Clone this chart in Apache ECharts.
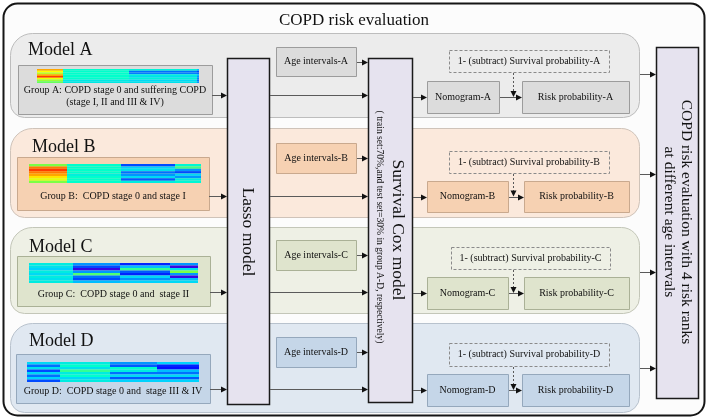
<!DOCTYPE html>
<html><head><meta charset="utf-8">
<script src="https://cdn.jsdelivr.net/npm/echarts@6/dist/echarts.min.js"></script>
<style>html,body{margin:0;padding:0;background:#fff}#c{width:708px;height:419px}</style>
</head><body><div id="c"></div>
<script>
// ---------------- text content ----------------
const TITLE = 'COPD risk evaluation';
const MODELS = ['Model A', 'Model B', 'Model C', 'Model D'];
const GROUPS = [
  'Group A: COPD stage 0 and suffering COPD\n(stage I, II and III & IV)',
  'Group B:  COPD stage 0 and stage I',
  'Group C:  COPD stage 0 and  stage II',
  'Group D:  COPD stage 0 and  stage III & IV'
];
const AGE_LABELS = ['Age intervals-A', 'Age intervals-B', 'Age intervals-C', 'Age intervals-D'];
const SURV_LABELS = ['1- (subtract) Survival probability-A', '1- (subtract) Survival probability-B',
  '1- (subtract) Survival probability-C', '1- (subtract) Survival probability-D'];
const NOMO_LABELS = ['Nomogram-A', 'Nomogram-B', 'Nomogram-C', 'Nomogram-D'];
const RISK_LABELS = ['Risk probability-A', 'Risk probability-B', 'Risk probability-C', 'Risk probability-D'];
const LASSO_LABEL = 'Lasso model';
const COX_LABEL = 'Survival Cox model';
const COX_NOTE = '( train set:70%,and test set=30% in group A-D, respectively)';
const OUTPUT_LABEL = 'COPD risk evaluation with 4 risk ranks\nat different age intervals';

// ---------------- heatmap thumbnails (segments x rows, values 0..1) ----------------
const HEATMAP_A = [
  [0.85, 0.75, 0.68, 0.85, 0.97, 0.74, 0.65, 0.60],
  [0.50, 0.50, 0.50, 0.50, 0.50, 0.50, 0.44, 0.44],
  [0.47, 0.25, 0.27, 0.45, 0.42, 0.47, 0.40, 0.42],
  [0.35, 0.20, 0.25, 0.35, 0.30, 0.28, 0.25, 0.30]
];
const HEATMAP_B = [
  [0.62, 0.90, 0.97, 0.90, 0.85, 0.78, 0.72, 0.62],
  [0.50, 0.50, 0.50, 0.50, 0.46, 0.50, 0.50, 0.50],
  [0.20, 0.38, 0.42, 0.25, 0.30, 0.40, 0.22, 0.45],
  [0.48, 0.56, 0.30, 0.20, 0.40, 0.30, 0.45, 0.48]
];
const HEATMAP_C = [
  [0.45, 0.42, 0.38, 0.45, 0.40, 0.45, 0.42, 0.45],
  [0.30, 0.20, 0.05, 0.30, 0.58, 0.25, 0.20, 0.35],
  [0.15, 0.35, 0.55, 0.22, 0.15, 0.40, 0.30, 0.38],
  [0.30, 0.05, 0.42, 0.62, 0.30, 0.05, 0.35, 0.40]
];
const HEATMAP_D = [
  [0.40, 0.25, 0.42, 0.20, 0.40, 0.25, 0.38, 0.20],
  [0.45, 0.50, 0.42, 0.55, 0.45, 0.50, 0.40, 0.45],
  [0.30, 0.22, 0.50, 0.45, 0.25, 0.40, 0.22, 0.38],
  [0.38, 0.15, 0.12, 0.35, 0.25, 0.40, 0.22, 0.38]
];
const HEATMAPS = [HEATMAP_A, HEATMAP_B, HEATMAP_C, HEATMAP_D];

// ---------------- layout & style (pixels) ----------------
const SERIF = "'Liberation Serif','Times New Roman',serif";
const ROWS = [
  {panel:[10,33,629,84], label:[28,50], group:[18,65,194,49], hm:[69,14], edges:[37,63,129,197,199], gty:96, linkY:95,
   age:[276,47,80,29], dash:[449,50,160,22], nomo:[427,81,72,32], risk:[522,81,107,32], outY:74},
  {panel:[10,128,629,89], label:[32,147], group:[17,157,192,53], hm:[164,19], edges:[29,67,121,175,201], gty:196, linkY:196,
   age:[276,143,80,30], dash:[449,151,160,22], nomo:[427,181,81,31], risk:[524,181,105,31], outY:174},
  {panel:[10,227,629,86], label:[29,247], group:[17,256,193,50], hm:[263,20], edges:[29,73,120,170,198], gty:294, linkY:292,
   age:[276,240,80,30], dash:[451,247,159,22], nomo:[427,277,81,32], risk:[524,277,105,32], outY:272},
  {panel:[10,323,629,89], label:[29,341], group:[16,354,194,49], hm:[362,20], edges:[27,60,110,157,199], gty:391, linkY:389,
   age:[276,337,80,30], dash:[449,343,160,23], nomo:[427,374,81,32], risk:[522,374,107,32], outY:368}
];
const THEMES = [
  {panel:'#ececec', pstroke:'#bdbdbd', box:'#dcdcdc', bstroke:'#9c9c9c'},
  {panel:'#fbe9dc', pstroke:'#cfc3b9', box:'#f6d1b2', bstroke:'#c9a98e'},
  {panel:'#eef0e5', pstroke:'#c3c6b8', box:'#dfe4cd', bstroke:'#aab196'},
  {panel:'#e0e8f1', pstroke:'#b8c2cd', box:'#c5d6e8', bstroke:'#95a8bc'}
];
const LASSO_BOX = [227,58,42,346], COX_BOX = [368,58,44,344], OUT_BOX = [656,47,42,351];
const BIG_FILL = '#e6e3ef';
const LINE = '#5a5a5a', HEAD = '#111';
const DASH_X = 513;

// ---------------- graphic helpers ----------------
const G = [];
function rect(b, fill, stroke, lw, r, dash) {
  G.push({type:'rect', shape:{x:b[0]+0.5, y:b[1]+0.5, width:b[2], height:b[3], r:r||0},
    style:{fill:fill, stroke:stroke, lineWidth:lw||1, lineDash:dash||null}});
}
function text(str, x, y, size, opts) {
  opts = opts || {};
  G.push({type:'text', x:x, y:y, rotation:opts.rot||0,
    style:{text:str, fontSize:size, fontFamily:SERIF, fill:opts.color||'#111',
      align:opts.align||'center', verticalAlign:'middle', lineHeight:opts.lh||Math.round(size*1.15)}});
}
function hArrow(x1, x2, y) {
  y = Math.round(y) + 0.5;
  G.push({type:'polyline', shape:{points:[[x1,y],[x2-4,y]]}, style:{stroke:LINE, lineWidth:1, fill:null}});
  G.push({type:'polygon', shape:{points:[[x2,y],[x2-6,y-3],[x2-6,y+3]]}, style:{fill:HEAD}});
}
function vDashArrow(x, y1, y2) {
  x = Math.round(x) + 0.5;
  G.push({type:'polyline', shape:{points:[[x,y1],[x,y2-4]]}, style:{stroke:LINE, lineWidth:1, lineDash:[2,2], fill:null}});
  G.push({type:'polygon', shape:{points:[[x,y2],[x-3,y2-6],[x+3,y2-6]]}, style:{fill:HEAD}});
}

// outer frame + title
rect([3,3,701,412], '#fcfcfc', '#151515', 2, 14);
text(TITLE, 354, 21, 17);

ROWS.forEach(function (L, i) {
  const T = THEMES[i];
  rect(L.panel, T.panel, T.pstroke, 1, [22, 18, 16, 14]);
  text(MODELS[i], L.label[0], L.label[1], 18, {align:'left'});
  rect(L.group, T.box, T.bstroke, 1);
  text(GROUPS[i], L.group[0] + L.group[2] / 2, L.gty, 10, {lh:12});
  rect(L.age, T.box, T.bstroke, 1);
  text(AGE_LABELS[i], L.age[0] + L.age[2] / 2, L.age[1] + L.age[3] / 2, 10);
  rect(L.dash, 'rgba(0,0,0,0)', '#8a8a8a', 1, 0, [3, 2]);
  text(SURV_LABELS[i], L.dash[0] + L.dash[2] / 2, L.dash[1] + L.dash[3] / 2, 10);
  rect(L.nomo, T.box, T.bstroke, 1);
  text(NOMO_LABELS[i], L.nomo[0] + L.nomo[2] / 2, L.nomo[1] + L.nomo[3] / 2, 10);
  rect(L.risk, T.box, T.bstroke, 1);
  text(RISK_LABELS[i], L.risk[0] + L.risk[2] / 2, L.risk[1] + L.risk[3] / 2, 10);
});

// big vertical boxes
rect(LASSO_BOX, BIG_FILL, '#1a1a1a', 1.5);
rect(COX_BOX, BIG_FILL, '#1a1a1a', 1.5);
rect(OUT_BOX, BIG_FILL, '#1a1a1a', 1.5);
const ROT = -Math.PI / 2;
text(LASSO_LABEL, LASSO_BOX[0] + 21, 232, 17.5, {rot:ROT});
text(COX_LABEL, COX_BOX[0] + 30, 230, 17.5, {rot:ROT});
text(COX_NOTE, COX_BOX[0] + 12, 227, 9.6, {rot:ROT});
text(OUTPUT_LABEL, OUT_BOX[0] + 22, 222, 15.5, {rot:ROT, lh:17});

// connectors
ROWS.forEach(function (L) {
  const g = L.group;
  hArrow(g[0] + g[2], LASSO_BOX[0], L.linkY);
  hArrow(LASSO_BOX[0] + LASSO_BOX[2] + 1, COX_BOX[0], L.linkY);
  const ay = L.age[1] + L.age[3] / 2;
  hArrow(L.age[0] + L.age[2] + 1, COX_BOX[0], ay);
  const ny = L.nomo[1] + L.nomo[3] / 2;
  hArrow(COX_BOX[0] + COX_BOX[2] + 1, L.nomo[0], ny);
  hArrow(L.nomo[0] + L.nomo[2] + 1, L.risk[0], ny);
  vDashArrow(DASH_X, L.dash[1] + L.dash[3] + 1, ny);
  hArrow(L.panel[0] + L.panel[2] + 1, OUT_BOX[0], L.outY);
});

// heatmap cell data built from the value arrays
const cellData = [];
HEATMAPS.forEach(function (hm, h) {
  hm.forEach(function (seg, s) {
    seg.forEach(function (v, r) { cellData.push([h, s, r, v]); });
  });
});

const chart = echarts.init(document.getElementById('c'), null, {renderer:'canvas'});
chart.setOption({
  animation:false,
  backgroundColor:'#ffffff',
  grid:{left:0, top:0, width:708, height:419, show:false},
  xAxis:{type:'value', min:0, max:708, show:false},
  yAxis:{type:'value', min:0, max:419, inverse:true, show:false},
  visualMap:{type:'continuous', show:false, min:0, max:1, dimension:3, seriesIndex:0,
    inRange:{color:['#5a00d0','#0010ff','#0070ff','#00d0ff','#00ffcc','#80ff40','#ffff00','#ff9000','#ff2000']}},
  graphic:{elements:G},
  series:[{
    type:'custom', z:10, silent:true,
    data:cellData,
    encode:{x:0, y:2},
    renderItem:function (params, api) {
      const h = api.value(0), s = api.value(1), r = api.value(2);
      const L = ROWS[h];
      const n = HEATMAPS[h][s].length;
      const y0 = L.hm[0] + r * L.hm[1] / n, y1 = L.hm[0] + (r + 1) * L.hm[1] / n;
      const p0 = api.coord([L.edges[s], y0]);
      const p1 = api.coord([L.edges[s + 1], y1]);
      return {type:'rect', shape:{x:p0[0], y:p0[1], width:p1[0] - p0[0], height:p1[1] - p0[1]},
        style:{fill:api.visual('color')}};
    }
  }]
});
</script></body></html>
